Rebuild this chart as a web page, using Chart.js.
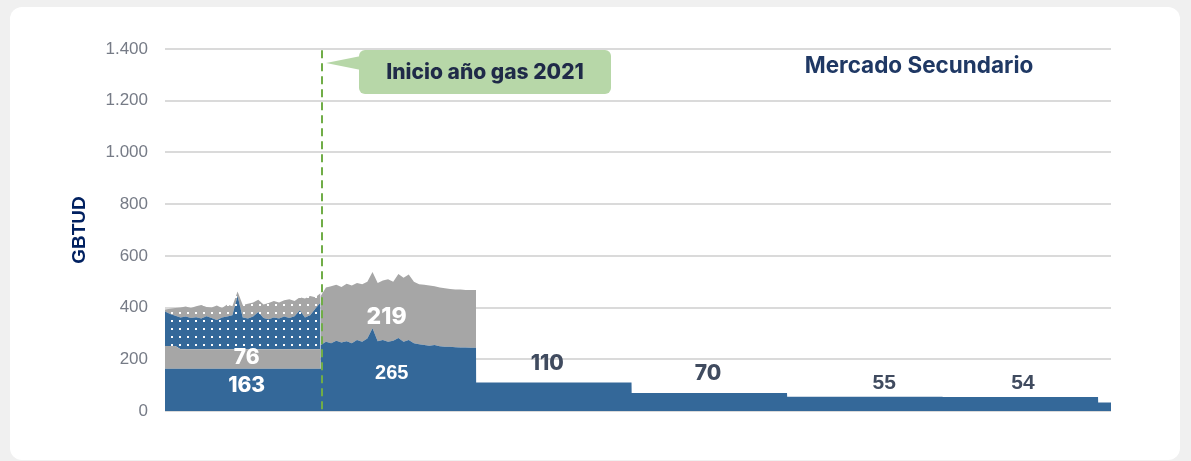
<!DOCTYPE html>
<html><head><meta charset="utf-8">
<script src="https://cdn.jsdelivr.net/npm/chart.js@4.4.1/dist/chart.umd.min.js"></script>
<style>
html,body{margin:0;padding:0;background:#f0f0f0;width:1191px;height:461px;overflow:hidden}
#card{position:absolute;left:10px;top:7px;width:1170px;height:453px;background:#fff;border-radius:12px}
#wrap{position:absolute;left:0;top:0;width:1191px;height:461px}
</style></head><body>
<div id="card"></div>
<div id="wrap"><canvas id="c" width="1191" height="461"></canvas></div>
<script>
// ---------- DATA ----------
// period boundaries (months from start of series)
const periodStarts = [0, 12, 24, 36, 48, 60, 72];
const periodEnds   = [12, 24, 36, 48, 60, 72, 73];

// Year 1 (before gas year 2021), sampled values
const y1Base    = [163,163,163,163,163,163,163,163,163,163,163,163,163,163,163,163,163,163,163,163,163,163,163,163,163,163,163,163,163,163,163];
const y1Gray    = [88,88,88,76,76,76,76,76,76,76,76,76,76,76,76,76,76,76,76,76,76,76,76,76,76,76,76,76,76,76,76];
const y1DotBlue = [134,124,117,123,126,121,124,119,127,121,113,123,126,131,206,123,119,126,144,121,116,123,119,126,121,127,151,123,131,156,181];
const y1DotGray = [8,20,30,38,39,38,42,52,36,40,56,36,47,35,17,48,57,55,47,52,63,63,62,63,72,59,50,73,75,45,35];

// Year 2 (gas year 2021)
const y2Base = [255,268,262,272,265,270,262,275,268,280,320,270,275,268,272,282,268,275,262,258,255,252,255,250,248,248,247,246,246,245,245];
const y2Gray = [190,210,220,216,215,222,223,220,222,220,218,225,230,242,228,248,247,253,238,232,233,233,227,228,227,224,223,224,222,223,223];

// Following periods (flat contracted quantities)
const laterBase = [110, 70, 55, 54, 33];

// Labels shown on the chart
const labelValues = [163, 76, 219, 265, 110, 70, 55, 54];
const yTicks = [0, 200, 400, 600, 800, 1000, 1200, 1400];

// ---------- BUILD ----------
const x1 = y1Base.map((_, i) => periodStarts[0] + i * (periodEnds[0] - periodStarts[0]) / (y1Base.length - 1));
const x2 = y2Base.map((_, i) => periodStarts[1] + 0.02 + i * (periodEnds[1] - periodStarts[1] - 0.02) / (y2Base.length - 1));
const laterPts = [];
laterBase.forEach((v, k) => {
  laterPts.push({x: periodStarts[k + 2] + 0.01, y: v});
  laterPts.push({x: periodEnds[k + 2], y: v});
});

const BLUE = '#346899', GRAY = '#a6a6a6';
const cnv = document.getElementById('c');
const ctx0 = cnv.getContext('2d');
function makePattern(bg) {
  const c = document.createElement('canvas'); c.width = 8; c.height = 8;
  const g = c.getContext('2d');
  g.fillStyle = bg; g.fillRect(0, 0, 8, 8);
  g.fillStyle = '#ffffff'; g.fillRect(3, 0, 2, 2);
  return ctx0.createPattern(c, 'repeat');
}

const dsBase = [...x1.map((x, i) => ({x, y: y1Base[i]})), ...x2.map((x, i) => ({x, y: y2Base[i]})), ...laterPts];
const dsGray = [...x1.map((x, i) => ({x, y: y1Gray[i]})), ...x2.map((x, i) => ({x, y: y2Gray[i]}))];
const dsDotBlue = x1.map((x, i) => ({x, y: y1DotBlue[i]}));
const dsDotGray = x1.map((x, i) => ({x, y: y1DotGray[i]}));

const common = {pointRadius: 0, borderWidth: 0, tension: 0};

const overlay = {
  id: 'overlay',
  afterDatasetsDraw(chart) {
    const {ctx, scales: {x, y}} = chart;
    ctx.save();
    // value labels
    const lab = [
      {m: 6.3,  v: 97,  c: '#ffffff', f: '800 21px Inter'},
      {m: 6.3,  v: 205, c: '#ffffff', f: '800 21px Inter'},
      {m: 17.1, v: 363, c: '#ffffff', f: '800 23px Inter'},
      {m: 17.5, v: 147, c: '#ffffff', f: 'bold 20px "Liberation Sans"'},
      {m: 29.5, v: 182, c: '#404b5f', f: '800 21px Inter'},
      {m: 41.9, v: 143, c: '#404b5f', f: '800 21px Inter'},
      {m: 55.5, v: 108, c: '#404b5f', f: 'bold 21px "Liberation Sans"'},
      {m: 66.2, v: 108, c: '#404b5f', f: 'bold 21px "Liberation Sans"'}
    ];
    ctx.textAlign = 'center'; ctx.textBaseline = 'middle';
    labelValues.forEach((val, i) => {
      const L = lab[i];
      ctx.font = L.f; ctx.fillStyle = L.c;
      ctx.fillText(String(val), x.getPixelForValue(L.m), y.getPixelForValue(L.v));
    });
    // dashed line
    const lx = Math.round(x.getPixelForValue(12.1));
    ctx.strokeStyle = '#70ad47'; ctx.lineWidth = 2; ctx.setLineDash([8, 5]);
    ctx.beginPath(); ctx.moveTo(lx, y.getPixelForValue(1395)); ctx.lineTo(lx, y.getPixelForValue(0)); ctx.stroke();
    ctx.setLineDash([]);
    // callout
    ctx.fillStyle = '#b7d7a8';
    ctx.beginPath(); ctx.roundRect(359, 50, 252, 44, 6); ctx.fill();
    ctx.beginPath(); ctx.moveTo(361, 56); ctx.lineTo(326, 63); ctx.lineTo(361, 70); ctx.closePath(); ctx.fill();
    ctx.fillStyle = '#1f2a48'; ctx.font = '800 21px Inter';
    ctx.fillText('Inicio año gas 2021', 485, 73);
    // title
    ctx.fillStyle = '#1f3864'; ctx.font = '700 22.5px Inter';
    ctx.fillText('Mercado Secundario', 919, 66);
    // y title
    ctx.translate(80, 230); ctx.rotate(-Math.PI / 2);
    ctx.fillStyle = '#002060'; ctx.font = 'bold 19px "Liberation Sans"';
    ctx.fillText('GBTUD', 0, 0);
    ctx.restore();
  }
};

new Chart(cnv, {
  type: 'line',
  data: {
    datasets: [
      {...common, data: dsBase, backgroundColor: BLUE, fill: 'origin'},
      {...common, data: dsGray, backgroundColor: GRAY, fill: '-1'},
      {...common, data: dsDotBlue, backgroundColor: makePattern(BLUE), fill: '-1'},
      {...common, data: dsDotGray, backgroundColor: makePattern(GRAY), fill: '-1'}
    ]
  },
  options: {
    responsive: false, devicePixelRatio: 1, animation: false,
    layout: {padding: {left: 0, right: 80, top: 49, bottom: 50}},
    plugins: {legend: {display: false}, tooltip: {enabled: false}},
    scales: {
      x: {type: 'linear', min: 0, max: 73, display: false},
      y: {
        stacked: true, min: 0, max: 1400,
        afterFit(s) { s.width = 165; },
        afterBuildTicks(s) { s.ticks = yTicks.map(v => ({value: v})); },
        border: {display: false},
        grid: {color: '#dadada', lineWidth: 2, drawTicks: false},
        ticks: {
          padding: 17, color: '#767b86', font: {family: '"Liberation Sans", Arial', size: 17},
          callback: v => v.toLocaleString('de-DE')
        }
      }
    }
  },
  plugins: [overlay]
});
</script>
</body></html>
